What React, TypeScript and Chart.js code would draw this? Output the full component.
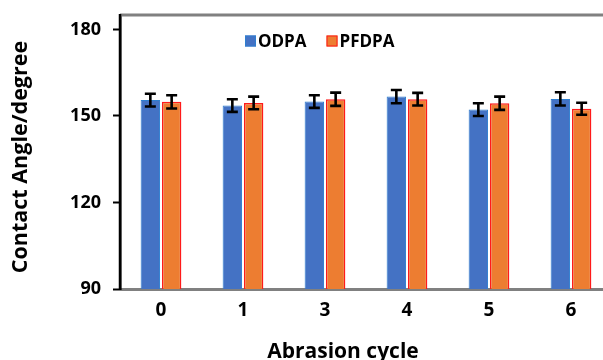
import React, { useEffect, useRef } from "react";
import { Chart, registerables } from "chart.js";

Chart.register(...registerables);

const categories = ["0", "1", "3", "4", "5", "6"];
const odpaValues = [155.5, 153.6, 155.0, 156.7, 152.2, 155.9];
const odpaErrors = [2.2, 2.2, 2.2, 2.3, 2.2, 2.3];
const pfdpaValues = [154.9, 154.5, 155.8, 155.8, 154.4, 152.5];
const pfdpaErrors = [2.3, 2.2, 2.3, 2.2, 2.3, 2.1];
const yTicks = [90, 120, 150, 180];
const seriesLabels = ["ODPA", "PFDPA"];
const xTitle = "Abrasion cycle";
const yTitle = "Contact Angle/degree";

const FONT = "'Open Sans', Lato, sans-serif";

const errorBarPlugin = {
  id: "errorBars",
  afterDatasetsDraw(chart: any) {
    const ctx = chart.ctx;
    const yScale = chart.scales.y;
    chart.data.datasets.forEach((ds: any, di: number) => {
      const meta = chart.getDatasetMeta(di);
      const errs: number[] = ds.errors || [];
      meta.data.forEach((bar: any, i: number) => {
        const v = ds.data[i];
        const e = errs[i];
        const x = bar.x;
        const yTop = yScale.getPixelForValue(v + e);
        const yBot = yScale.getPixelForValue(v - e);
        ctx.save();
        ctx.strokeStyle = "#000";
        ctx.lineWidth = 2.6;
        ctx.beginPath();
        ctx.moveTo(x, yTop);
        ctx.lineTo(x, yBot);
        ctx.moveTo(x - 5.5, yTop);
        ctx.lineTo(x + 5.5, yTop);
        ctx.moveTo(x - 5.5, yBot);
        ctx.lineTo(x + 5.5, yBot);
        ctx.stroke();
        ctx.restore();
      });
    });
  },
};

const frameAndLegendPlugin = {
  id: "frameLegend",
  afterDraw(chart: any) {
    const ctx = chart.ctx;
    const area = chart.chartArea;
    ctx.save();
    ctx.strokeStyle = "#808080";
    ctx.lineWidth = 3;
    ctx.beginPath();
    ctx.moveTo(area.left, area.top);
    ctx.lineTo(area.right + 20, area.top);
    ctx.stroke();
    ctx.strokeStyle = "#000";
    ctx.lineWidth = 2.5;
    ctx.beginPath();
    ctx.moveTo(area.left, area.top - 1);
    ctx.lineTo(area.left, area.bottom + 1);
    ctx.stroke();

    // legend
    let x = area.left + 125;
    const yMid = area.top + 26;
    ctx.font = "bold 17px " + FONT;
    ctx.textBaseline = "middle";
    ctx.textAlign = "left";
    chart.data.datasets.forEach((ds: any) => {
      ctx.fillStyle = ds.backgroundColor;
      ctx.fillRect(x, yMid - 5.5, 11, 11);
      ctx.strokeStyle = ds.borderColor;
      ctx.lineWidth = 1;
      ctx.strokeRect(x + 0.5, yMid - 5, 10, 10);
      ctx.fillStyle = "#000";
      ctx.fillText(ds.label, x + 13, yMid + 1);
      x += 13 + ctx.measureText(ds.label).width + 20;
    });

    // x-axis title
    ctx.font = "bold 21px " + FONT;
    ctx.textAlign = "center";
    ctx.textBaseline = "middle";
    ctx.fillStyle = "#000";
    ctx.fillText(xTitle, area.left + 223, chart.height - 8);

    // y-axis title
    ctx.translate(21, (area.top + area.bottom) / 2 + 5);
    ctx.rotate(-Math.PI / 2);
    ctx.font = "bold 21.5px " + FONT;
    ctx.fillText(yTitle, 0, 0);
    ctx.restore();
  },
};

export default function App() {
  const ref = useRef<HTMLCanvasElement>(null);
  useEffect(() => {
    if (!ref.current) return;
    const chart = new Chart(ref.current, {
      type: "bar",
      data: {
        labels: categories,
        datasets: [
          {
            label: seriesLabels[0],
            data: odpaValues,
            errors: odpaErrors,
            backgroundColor: "#4472C4",
            borderColor: "#2E7FD0",
            borderWidth: 1,
            categoryPercentage: 0.52,
            barPercentage: 0.91,
          } as any,
          {
            label: seriesLabels[1],
            data: pfdpaValues,
            errors: pfdpaErrors,
            backgroundColor: "#ED7D31",
            borderColor: "#FF1A1A",
            borderWidth: 1.5,
            categoryPercentage: 0.52,
            barPercentage: 0.91,
          } as any,
        ],
      },
      options: {
        animation: false,
        responsive: false,
        maintainAspectRatio: false,
        layout: { padding: { top: 15, right: 0, left: 0, bottom: 0 } },
        plugins: {
          legend: { display: false },
          tooltip: { enabled: false },
        },
        scales: {
          x: {
            grid: { display: true, drawOnChartArea: false, drawTicks: false },
            border: { display: true, color: "#808080", width: 3 },
            ticks: {
              color: "#000",
              font: { family: FONT, size: 19, weight: "bold" },
              padding: 10,
            },
            title: { display: false },
            afterFit(scale: any) {
              scale.height = 71;
              scale.paddingLeft = 0;
              scale.paddingRight = 0;
            },
          },
          y: {
            min: 90,
            max: 185,
            grid: {
              drawOnChartArea: false,
              drawTicks: true,
              tickLength: 7,
              tickWidth: 2,
              tickColor: "#000",
            },
            border: { display: true, color: "#000", width: 2.5 },
            ticks: {
              stepSize: 30,
              includeBounds: false,
              color: "#000",
              font: { family: FONT, size: 18, weight: "bold" },
              padding: 12,
            } as any,
            afterBuildTicks(scale: any) {
              scale.ticks = yTicks.map((v) => ({ value: v }));
            },
            title: { display: false },
            afterFit(scale: any) {
              scale.width = 120;
              scale.paddingTop = 0;
              scale.paddingBottom = 0;
            },
          },
        },
      },
      plugins: [errorBarPlugin, frameAndLegendPlugin],
    });
    return () => chart.destroy();
  }, []);
  return (
    <div
      style={{
        position: "absolute",
        left: 0,
        top: 0,
        width: 603,
        height: 360,
        overflow: "hidden",
        background: "#fff",
      }}
    >
      <canvas ref={ref} width={612} height={360} style={{ display: "block" }} />
    </div>
  );
}
